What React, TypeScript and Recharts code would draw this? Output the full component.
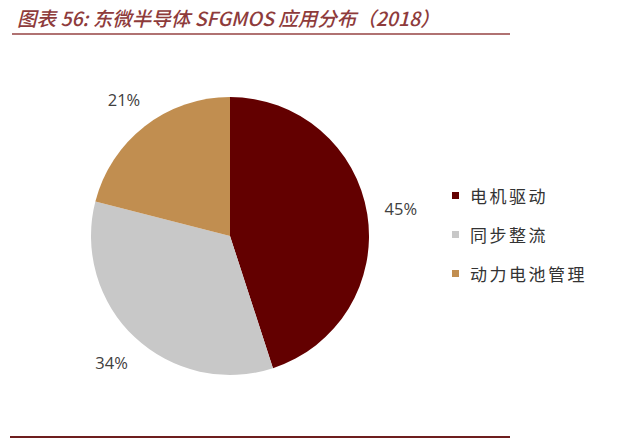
import React from "react";
import { PieChart, Pie, Cell, Legend } from "recharts";

const categories = ["电机驱动", "同步整流", "动力电池管理"];
const shares = [45, 34, 21];
const colors = ["#630000", "#C8C8C8", "#C18E50"];

const data = categories.map((name, i) => ({ name, value: shares[i] }));

const RAD = Math.PI / 180;

function renderLabel(props: any) {
  const { cx, cy, midAngle, outerRadius, value } = props;
  const r = outerRadius + 34;
  const x = cx + r * Math.cos(-midAngle * RAD);
  const y = cy + r * Math.sin(-midAngle * RAD);
  return (
    <text x={x} y={y} fill="#404040" fontSize={16.5} textAnchor="middle" dominantBaseline="central"
      fontFamily="'Open Sans', 'Noto Sans', sans-serif">
      {value}%
    </text>
  );
}

// legend follows the category order, not the sector order recharts hands over
function renderLegend() {
  return (
    <div>
      {categories.map((name, i) => (
        <div key={name} style={{ display: "flex", alignItems: "center", height: 39 }}>
          <span style={{ width: 7, height: 7, background: colors[i], display: "inline-block", marginRight: 11 }} />
          <span style={{ fontSize: 17, color: "#333333", fontFamily: "'Noto Sans CJK SC', sans-serif", letterSpacing: 2.5 }}>
            {name}
          </span>
        </div>
      ))}
    </div>
  );
}

export default function App() {
  return (
    <div style={{ position: "absolute", left: 0, top: 0, width: 640, height: 439, background: "#fff", overflow: "hidden" }}>
      <div style={{
        position: "absolute", left: 17, top: 3, fontSize: 19.5, fontStyle: "italic", fontWeight: 500, color: "#8E3B3B",
        fontFamily: "'Noto Sans CJK SC', sans-serif", whiteSpace: "nowrap", letterSpacing: 0
      }}>
        图表 56: 东微半导体 SFGMOS 应用分布（2018）
      </div>
      <div style={{ position: "absolute", left: 12, top: 33, width: 498, height: 2, background: "#B07272" }} />
      <PieChart width={640} height={439}>
        <Pie
          data={data}
          dataKey="value"
          nameKey="name"
          cx={225}
          cy={231}
          outerRadius={139}
          startAngle={90}
          endAngle={-270}
          stroke="none"
          label={renderLabel}
          labelLine={false}
          isAnimationActive={false}
        >
          {data.map((d, i) => (
            <Cell key={d.name} fill={colors[i]} />
          ))}
        </Pie>
        <Legend
          content={renderLegend}
          layout="vertical"
          wrapperStyle={{ left: 452, top: 176, width: 180 }}
        />
      </PieChart>
      <div style={{ position: "absolute", left: 10, top: 436, width: 500, height: 2, background: "#6E1E1E" }} />
    </div>
  );
}
